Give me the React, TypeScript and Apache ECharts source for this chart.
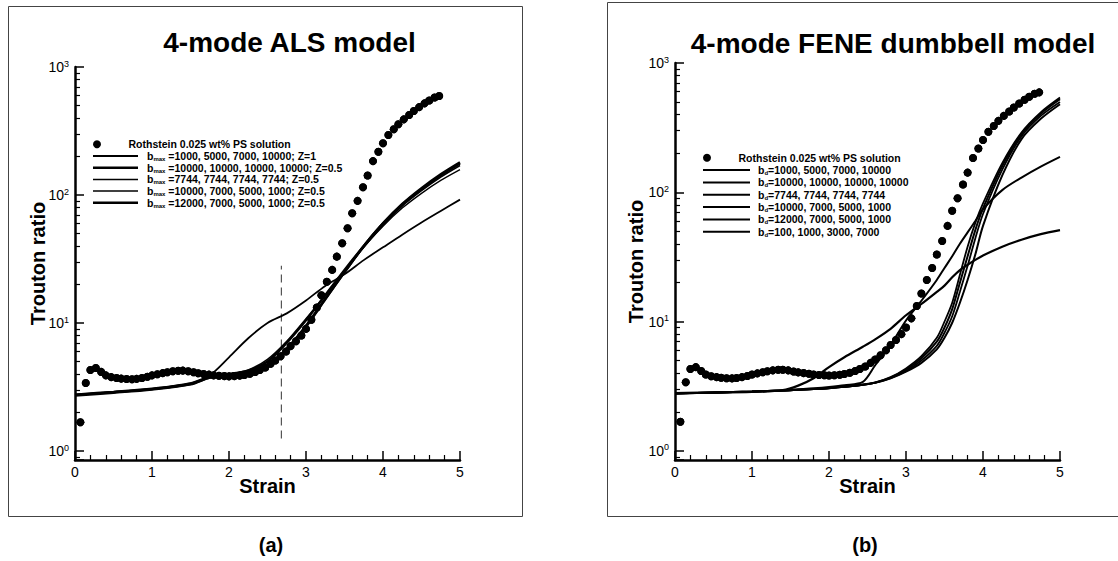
import React, { useEffect, useRef } from "react";
import * as echarts from "echarts";

// ---- Experimental data (Rothstein 0.025 wt% PS solution), shared by both panels
const strain = [
  0.07, 0.14, 0.2, 0.27, 0.34, 0.4, 0.47, 0.54, 0.6, 0.67, 0.74, 0.8, 0.87, 0.94, 1.0,
  1.07, 1.14, 1.2, 1.27, 1.34, 1.4, 1.47, 1.54, 1.6, 1.67, 1.74, 1.8, 1.87, 1.94, 2.0,
  2.07, 2.14, 2.2, 2.27, 2.34, 2.4, 2.47, 2.54, 2.6, 2.67, 2.74, 2.8, 2.87, 2.94, 3.0,
  3.07, 3.14, 3.2, 3.27, 3.34, 3.4, 3.47, 3.54, 3.6, 3.67, 3.74, 3.8, 3.87, 3.94, 4.0,
  4.07, 4.14, 4.2, 4.27, 4.34, 4.4, 4.47, 4.54, 4.6, 4.67, 4.73,
];
const trouton = [
  1.68, 3.4, 4.3, 4.45, 4.15, 3.9, 3.78, 3.72, 3.68, 3.65, 3.64, 3.66, 3.72, 3.8, 3.9,
  3.98, 4.06, 4.13, 4.2, 4.24, 4.25, 4.2, 4.12, 4.05, 4.0, 3.95, 3.9, 3.87, 3.85, 3.83,
  3.85, 3.88, 3.93, 4.02, 4.15, 4.3, 4.5, 4.8, 5.1, 5.5, 6.0, 6.6, 7.2, 8.0, 9.0,
  10.6, 13.2, 16.5, 21, 26, 33, 42, 55, 72, 90, 115, 142, 184, 218, 254,
  294, 326, 357, 390, 422, 453, 486, 520, 548, 578, 593,
];
const expName = "Rothstein 0.025 wt% PS solution";

// ---- Panel (a): 4-mode ALS model
const alsX = [0, 0.5, 1.0, 1.5, 1.75, 2.0, 2.25, 2.5, 2.75, 3.0, 3.25, 3.5, 3.75, 4.0, 4.25, 4.5, 4.75, 5.0];
const als1 = [2.75, 2.88, 3.05, 3.35, 3.9, 5.4, 7.6, 10.0, 11.9, 15.0, 19.5, 24, 31, 39, 49, 61, 75, 92];
const als2 = [2.72, 2.86, 3.03, 3.32, 3.75, 3.95, 4.1, 4.7, 6.3, 9.5, 15.5, 25, 40, 60, 85, 113, 145, 180];
const als3 = [2.72, 2.85, 3.02, 3.3, 3.72, 3.92, 4.05, 4.6, 6.1, 9.2, 15, 24.5, 39, 57, 79, 103, 130, 158];
const als4 = [2.76, 2.9, 3.07, 3.38, 3.8, 4.0, 4.3, 5.2, 7.2, 10.8, 16.5, 25.5, 39, 58, 82, 108, 138, 170];
const als5 = [2.76, 2.9, 3.07, 3.38, 3.8, 4.0, 4.25, 5.0, 7.0, 10.5, 16.5, 26, 40, 60, 84, 111, 142, 176];
const alsNames = [
  "bmax =1000, 5000, 7000, 10000; Z=1",
  "bmax =10000, 10000, 10000, 10000; Z=0.5",
  "bmax =7744, 7744, 7744, 7744; Z=0.5",
  "bmax =10000, 7000, 5000, 1000; Z=0.5",
  "bmax =12000, 7000, 5000, 1000; Z=0.5",
];
const alsWidths = [1.8, 2.6, 1.3, 1.6, 2.4];
const dashX = [2.68, 2.68];
const dashY = [1.25, 28];

// ---- Panel (b): 4-mode FENE dumbbell model
const feneX = [0, 0.5, 1.0, 1.4, 1.6, 1.8, 2.0, 2.2, 2.44, 2.6, 2.8, 3.0, 3.2, 3.4, 3.5, 3.6, 3.7, 3.8, 3.9, 4.0, 4.25, 4.5, 4.75, 5.0];
const fene1 = [2.8, 2.83, 2.88, 2.95, 3.0, 3.05, 3.12, 3.22, 3.42, 4.6, 6.6, 10.2, 14.5, 21, 26, 32, 40, 49, 60, 74, 104, 130, 158, 188];
const fene2 = [2.78, 2.83, 2.88, 2.93, 2.97, 3.01, 3.06, 3.13, 3.25, 3.38, 3.72, 4.35, 5.4, 7.5, 10, 14, 23, 38, 58, 82, 168, 290, 415, 540];
const fene3 = [2.78, 2.83, 2.88, 2.93, 2.97, 3.01, 3.06, 3.13, 3.25, 3.38, 3.69, 4.25, 5.2, 7.0, 9.0, 12.5, 20, 32, 51, 75, 160, 283, 405, 525];
const fene4 = [2.78, 2.83, 2.88, 2.93, 2.97, 3.01, 3.06, 3.13, 3.25, 3.37, 3.66, 4.15, 5.0, 6.5, 8.2, 11, 17, 27, 44, 68, 150, 272, 390, 500];
const fene5 = [2.78, 2.83, 2.88, 2.93, 2.97, 3.01, 3.06, 3.13, 3.25, 3.36, 3.64, 4.1, 4.8, 6.1, 7.5, 9.8, 14, 21, 33, 55, 135, 258, 370, 480];
const fene6 = [2.8, 2.82, 2.86, 2.95, 3.2, 3.65, 4.45, 5.3, 6.4, 7.3, 8.8, 11.2, 13.7, 17, 19, 22, 25, 27.5, 30, 32.5, 38, 43, 47.5, 51];
const feneNames = [
  "bd=1000, 5000, 7000, 10000",
  "bd=10000, 10000, 10000, 10000",
  "bd=7744, 7744, 7744, 7744",
  "bd=10000, 7000, 5000, 1000",
  "bd=12000, 7000, 5000, 1000",
  "bd=100, 1000, 3000, 7000",
];
const feneWidths = [2, 1.8, 2, 1.8, 2, 2.2];

// ---- Axis ranges / ticks
const xMin = 0;
const xMax = 5;
const xTickInterval = 1;
const yMin = 0.851;
const yMax = 1000;
const yMinorSplit = 9; // minor ticks at 2..9 of each decade

const FONT = '"Liberation Sans", Arial, Helvetica, sans-serif';

const GRIDS = [
  { left: 75, top: 67, width: 385, height: 393 },
  { left: 675, top: 63, width: 385, height: 397 },
];

const pair = (xs: number[], ys: number[]) => xs.map((x, i) => [x, ys[i]]);

function legendFormatter(name: string) {
  if (name.startsWith("bmax")) return "b{sub|max}" + name.slice(4);
  if (name.startsWith("bd")) return "b{sub|d}" + name.slice(2);
  return name;
}

function powerLabel(v: number) {
  const e = Math.log10(v);
  const r = Math.round(e);
  if (Math.abs(e - r) > 1e-6) return "";
  return "10{sup|" + r + "}";
}

function makeLegends(
  names: string[],
  lineWidths: number[],
  left: number,
  firstCenter: number,
  gap: number,
  itemWidth: number,
  textPad: number
) {
  return names.map((n, i) => {
    const isScatter = i === 0;
    const h = isScatter ? 8 : Math.max(1, Math.round(lineWidths[i - 1] * 2) / 2);
    return {
      data: [{ name: n, icon: isScatter ? "circle" : "rect" }],
      left,
      top: firstCenter + i * gap - 6,
      orient: "horizontal",
      padding: 0,
      itemWidth,
      itemHeight: h,
      itemGap: 0,
      selectedMode: false,
      itemStyle: { color: "#000", borderWidth: 0, opacity: 1 },
      formatter: legendFormatter,
      textStyle: {
        fontFamily: FONT,
        fontSize: 10.5,
        fontWeight: "bold",
        color: "#000",
        lineHeight: 12,
        padding: [0, 0, 0, textPad],
        rich: {
          sub: { fontFamily: FONT, fontSize: 6, fontWeight: "bold", color: "#000", lineHeight: 6, verticalAlign: "bottom" },
        },
      },
    };
  });
}

function xAxisCfg(gridIndex: number) {
  return {
    gridIndex,
    type: "value",
    min: xMin,
    max: xMax,
    interval: xTickInterval,
    axisLine: { show: true, onZero: false, lineStyle: { color: "#000", width: 2.5 } },
    axisTick: { show: true, inside: true, length: 9, lineStyle: { color: "#000", width: 1.5 } },
    minorTick: { show: true, splitNumber: 5, length: 5, lineStyle: { color: "#000", width: 1.2 } },
    splitLine: { show: false },
    axisLabel: { color: "#000", fontSize: 14, fontFamily: FONT, margin: 5 },
    name: "Strain",
    nameLocation: "middle",
    nameGap: 16,
    nameMoveOverlap: false,
    nameTextStyle: { color: "#000", fontSize: 20, fontWeight: "bold", fontFamily: FONT },
  };
}

function yAxisCfg(gridIndex: number, nameGap: number) {
  return {
    gridIndex,
    type: "log",
    logBase: 10,
    min: yMin,
    max: yMax,
    position: "left",
    axisLine: { show: true, lineStyle: { color: "#000", width: 2.5 } },
    axisTick: { show: true, inside: true, length: 9, lineStyle: { color: "#000", width: 1.5 } },
    minorTick: { show: true, splitNumber: yMinorSplit, length: 5, lineStyle: { color: "#000", width: 1.2 } },
    splitLine: { show: false },
    axisLabel: {
      color: "#000",
      fontSize: 14,
      fontFamily: FONT,
      margin: 6,
      lineHeight: 16,
      formatter: powerLabel,
      rich: { sup: { fontSize: 9, verticalAlign: "top", lineHeight: 9 } },
    },
    name: "Trouton ratio",
    nameLocation: "middle",
    nameGap,
    nameMoveOverlap: false,
    nameTextStyle: { color: "#000", fontSize: 20, fontWeight: "bold", fontFamily: FONT },
  };
}

function hiddenX(gridIndex: number) {
  return { gridIndex, type: "value", min: xMin, max: xMax, interval: xTickInterval, show: false, splitLine: { show: false } };
}
function hiddenY(gridIndex: number) {
  return { gridIndex, type: "log", logBase: 10, min: yMin, max: yMax, show: false, splitLine: { show: false } };
}

function expSeries(gi: number) {
  return {
    type: "scatter",
    name: expName,
    xAxisIndex: gi,
    yAxisIndex: gi,
    data: pair(strain, trouton),
    symbol: "circle",
    symbolSize: 8,
    itemStyle: { color: "#000", opacity: 1 },
    z: 3,
  };
}

export default function App() {
  const axesRef = useRef<HTMLDivElement>(null);
  const dataRef = useRef<HTMLDivElement>(null);

  useEffect(() => {
    if (!axesRef.current || !dataRef.current) return;
    const axesChart = echarts.init(axesRef.current, undefined, { renderer: "svg" });
    const dataChart = echarts.init(dataRef.current, undefined, { renderer: "svg" });

    axesChart.setOption({
      animation: false,
      backgroundColor: "#fff",
      textStyle: { fontFamily: FONT, color: "#000" },
      grid: GRIDS,
      xAxis: [xAxisCfg(0), xAxisCfg(1)],
      yAxis: [yAxisCfg(0, 27), yAxisCfg(1, 29)],
      series: [expSeries(0), expSeries(1)],
    } as any);

    const lineSeries = (name: string, xs: number[], ys: number[], width: number, gi: number) => ({
      type: "line",
      name,
      xAxisIndex: gi,
      yAxisIndex: gi,
      data: pair(xs, ys),
      symbol: "none",
      showSymbol: false,
      smooth: 0.3,
      lineStyle: { color: "#000", width },
      itemStyle: { color: "#000" },
      z: 2,
    });

    const series: any[] = [
      expSeries(0),
      ...[als1, als2, als3, als4, als5].map((ys, i) => lineSeries(alsNames[i], alsX, ys, alsWidths[i], 0)),
      {
        type: "line",
        name: "marker",
        xAxisIndex: 0,
        yAxisIndex: 0,
        data: pair(dashX, dashY),
        symbol: "none",
        lineStyle: { color: "#444", width: 1.1, type: [8, 5] },
        z: 1,
      },
      expSeries(1),
      ...[fene1, fene2, fene3, fene4, fene5, fene6].map((ys, i) => lineSeries(feneNames[i], feneX, ys, feneWidths[i], 1)),
    ];

    dataChart.setOption({
      animation: false,
      backgroundColor: "transparent",
      textStyle: { fontFamily: FONT, color: "#000" },
      grid: GRIDS,
      xAxis: [hiddenX(0), hiddenX(1)],
      yAxis: [hiddenY(0), hiddenY(1)],
      legend: [
        ...makeLegends([expName, ...alsNames], alsWidths, 93, 144.3, 11.7, 45, 4),
        ...makeLegends([expName, ...feneNames], feneWidths, 703, 157.7, 12.35, 47, 3),
      ],
      graphic: [
        { type: "rect", silent: true, z: -10, shape: { x: 8.5, y: 6.5, width: 514, height: 510 }, style: { fill: "rgba(0,0,0,0)", stroke: "#444", lineWidth: 1 } },
        { type: "rect", silent: true, z: -10, shape: { x: 607.5, y: 2.5, width: 530, height: 514 }, style: { fill: "rgba(0,0,0,0)", stroke: "#444", lineWidth: 1 } },
        { type: "text", x: 289.5, y: 42.5, style: { text: "4-mode ALS model", font: "bold 28px " + FONT, fill: "#000", align: "center", verticalAlign: "middle" } },
        { type: "text", x: 893, y: 43, style: { text: "4-mode FENE dumbbell model", font: "bold 28px " + FONT, fill: "#000", align: "center", verticalAlign: "middle" } },
        { type: "text", x: 271, y: 545, style: { text: "(a)", font: "bold 20px " + FONT, fill: "#000", align: "center", verticalAlign: "middle" } },
        { type: "text", x: 865, y: 545, style: { text: "(b)", font: "bold 20px " + FONT, fill: "#000", align: "center", verticalAlign: "middle" } },
      ],
      series,
    } as any);

    return () => {
      dataChart.dispose();
      axesChart.dispose();
    };
  }, []);

  return (
    <div style={{ position: "absolute", left: 0, top: 0, width: 1118, height: 561, background: "#fff" }}>
      <div ref={axesRef} style={{ position: "absolute", left: 0, top: 0, width: 1118, height: 561 }} />
      <div ref={dataRef} style={{ position: "absolute", left: 0, top: 0, width: 1118, height: 561 }} />
    </div>
  );
}
